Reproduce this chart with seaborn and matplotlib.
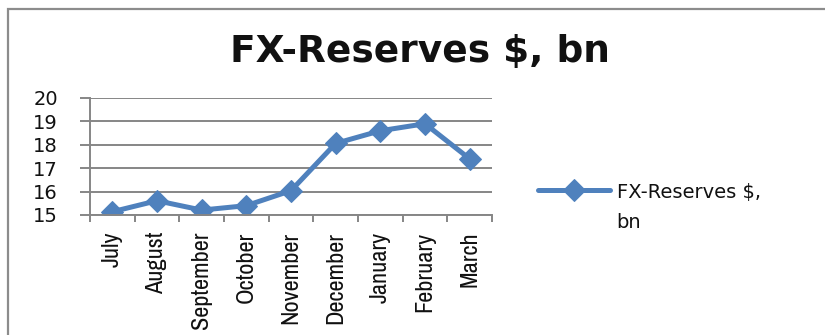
import matplotlib
matplotlib.use("Agg")
import matplotlib.pyplot as plt
from matplotlib.patches import Rectangle
from matplotlib.ticker import FixedLocator
import seaborn as sns
import pandas as pd
from matplotlib import font_manager as fm

months = ["July", "August", "September", "October", "November",
          "December", "January", "February", "March"]
reserves = [15.14, 15.61, 15.21, 15.40, 16.04, 18.06, 18.60, 18.90, 17.40]
series_name = "FX-Reserves $, bn"
title = "FX-Reserves $, bn"
yticks = [15, 16, 17, 18, 19, 20]

df = pd.DataFrame({"month": months, "value": reserves})

sns.set_theme(style="white")
plt.rcParams["font.family"] = ["DejaVu Sans"]

# pick a narrow font for the month labels if one is installed
narrow_kw = None
for f in fm.fontManager.ttflist:
    if "Narrow" in f.name or "Condensed" in f.name:
        narrow_kw = dict(family=f.name, fontsize=17.5)
        break
if narrow_kw is None:
    for f in fm.fontManager.ttflist:
        if f.name == "DejaVu Sans" and str(f.stretch) in ("condensed", "semi-condensed"):
            narrow_kw = dict(family="DejaVu Sans", stretch="condensed", fontsize=14)
            break
if narrow_kw is None:
    narrow_kw = dict(family="DejaVu Sans", fontsize=13)

blue = "#4F81BD"
grid_c = "#868686"

fig = plt.figure(figsize=(8.25, 3.35), dpi=100)
ax = fig.add_axes([90 / 825, 1 - 215 / 335, 402 / 825, 117 / 335])

sns.lineplot(data=df, x="month", y="value", ax=ax, sort=False,
             color=blue, linewidth=3.6, marker="D", markersize=11,
             markeredgecolor=blue, label="FX-Reserves $,\nbn")

ax.set_xlim(-0.5, len(months) - 0.5)
ax.set_ylim(yticks[0], yticks[-1])
ax.set_yticks(yticks)
ax.set_yticklabels([str(v) for v in yticks], fontsize=14, color="#111111")
ax.yaxis.grid(True, color=grid_c, linewidth=1.4)
ax.set_axisbelow(True)
ax.tick_params(axis="y", direction="out", length=7, width=1.4,
               color=grid_c, pad=16, left=True)

ax.set_xticks(range(len(months)))
ax.set_xticklabels(months, rotation=90, color="#111111", **narrow_kw)
ax.xaxis.set_minor_locator(FixedLocator([i - 0.5 for i in range(len(months) + 1)]))
ax.tick_params(axis="x", which="major", length=0, pad=12)
ax.tick_params(axis="x", which="minor", direction="out", length=5,
               width=1.4, color=grid_c, bottom=True)

for s in ["top", "right"]:
    ax.spines[s].set_visible(False)
for s in ["left", "bottom"]:
    ax.spines[s].set_color(grid_c)
    ax.spines[s].set_linewidth(1.4)

ax.set_xlabel("")
ax.set_ylabel("")

leg = ax.legend(loc="upper left", bbox_to_anchor=(538 / 825, 1 - 183 / 335),
                bbox_transform=fig.transFigure, frameon=False,
                fontsize=14, handlelength=3.7, handletextpad=0.35,
                borderpad=0, borderaxespad=0)
for t in leg.get_texts():
    t.set_linespacing(1.75)
    t.set_color("#111111")
# align the legend handle with the first text line
for ln in leg.get_lines():
    ln.set_ydata([y + 13 for y in ln.get_ydata()])

fig.text(419.5 / 825, 1 - 52 / 335, title, ha="center", va="center",
         fontsize=27, fontweight="bold", color="#111111")

fig.patches.append(Rectangle((7.5 / 825, -0.2), 1.2, 1.2 - 9 / 335,
                             transform=fig.transFigure, fill=False,
                             edgecolor="#8c8c8c", linewidth=1.6))

fig.savefig("out.png", dpi=100)
